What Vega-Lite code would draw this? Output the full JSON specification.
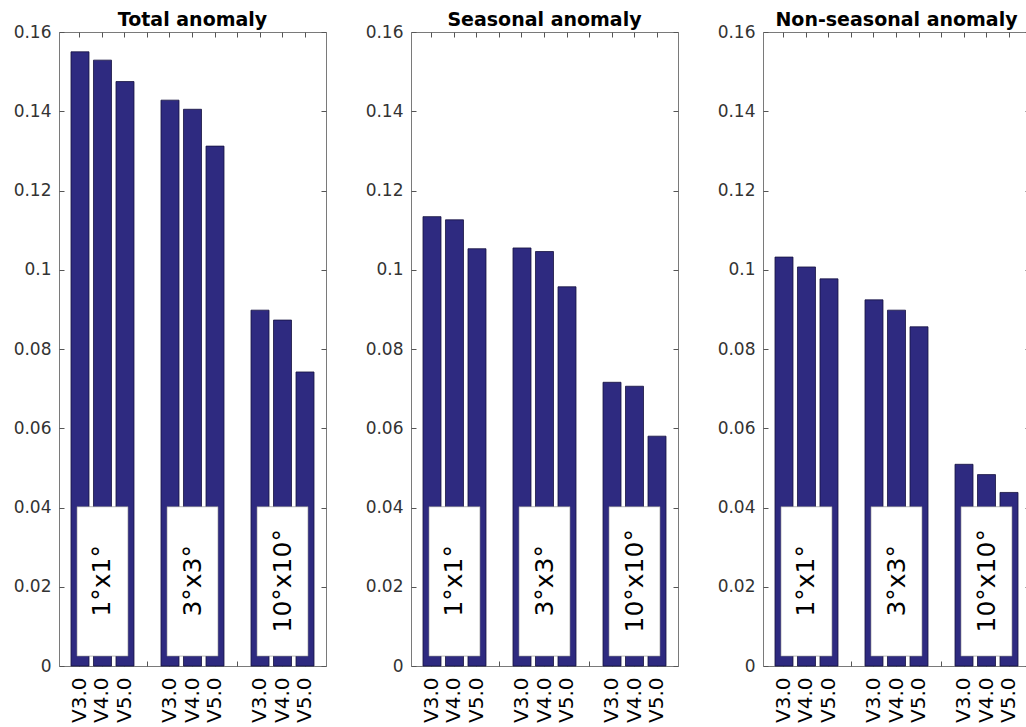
{
  "$schema": "https://vega.github.io/schema/vega-lite/v6.json",
  "padding": {"left": 12, "top": 10, "right": 0, "bottom": 0},
  "spacing": 37,
  "background": "white",
  "data": {"values": [
    {"panel": "Total anomaly", "grid": "1°x1°", "version": "V3.0", "bar": "1°x1°|V3.0", "value": 0.155},
    {"panel": "Total anomaly", "grid": "1°x1°", "version": "V4.0", "bar": "1°x1°|V4.0", "value": 0.1529},
    {"panel": "Total anomaly", "grid": "1°x1°", "version": "V5.0", "bar": "1°x1°|V5.0", "value": 0.1475},
    {"panel": "Total anomaly", "grid": "3°x3°", "version": "V3.0", "bar": "3°x3°|V3.0", "value": 0.1428},
    {"panel": "Total anomaly", "grid": "3°x3°", "version": "V4.0", "bar": "3°x3°|V4.0", "value": 0.1405},
    {"panel": "Total anomaly", "grid": "3°x3°", "version": "V5.0", "bar": "3°x3°|V5.0", "value": 0.1312},
    {"panel": "Total anomaly", "grid": "10°x10°", "version": "V3.0", "bar": "10°x10°|V3.0", "value": 0.0898},
    {"panel": "Total anomaly", "grid": "10°x10°", "version": "V4.0", "bar": "10°x10°|V4.0", "value": 0.0873},
    {"panel": "Total anomaly", "grid": "10°x10°", "version": "V5.0", "bar": "10°x10°|V5.0", "value": 0.0742},
    {"panel": "Seasonal anomaly", "grid": "1°x1°", "version": "V3.0", "bar": "1°x1°|V3.0", "value": 0.1134},
    {"panel": "Seasonal anomaly", "grid": "1°x1°", "version": "V4.0", "bar": "1°x1°|V4.0", "value": 0.1126},
    {"panel": "Seasonal anomaly", "grid": "1°x1°", "version": "V5.0", "bar": "1°x1°|V5.0", "value": 0.1053},
    {"panel": "Seasonal anomaly", "grid": "3°x3°", "version": "V3.0", "bar": "3°x3°|V3.0", "value": 0.1055},
    {"panel": "Seasonal anomaly", "grid": "3°x3°", "version": "V4.0", "bar": "3°x3°|V4.0", "value": 0.1046},
    {"panel": "Seasonal anomaly", "grid": "3°x3°", "version": "V5.0", "bar": "3°x3°|V5.0", "value": 0.0957},
    {"panel": "Seasonal anomaly", "grid": "10°x10°", "version": "V3.0", "bar": "10°x10°|V3.0", "value": 0.0716},
    {"panel": "Seasonal anomaly", "grid": "10°x10°", "version": "V4.0", "bar": "10°x10°|V4.0", "value": 0.0706},
    {"panel": "Seasonal anomaly", "grid": "10°x10°", "version": "V5.0", "bar": "10°x10°|V5.0", "value": 0.058},
    {"panel": "Non-seasonal anomaly", "grid": "1°x1°", "version": "V3.0", "bar": "1°x1°|V3.0", "value": 0.1032},
    {"panel": "Non-seasonal anomaly", "grid": "1°x1°", "version": "V4.0", "bar": "1°x1°|V4.0", "value": 0.1007},
    {"panel": "Non-seasonal anomaly", "grid": "1°x1°", "version": "V5.0", "bar": "1°x1°|V5.0", "value": 0.0977},
    {"panel": "Non-seasonal anomaly", "grid": "3°x3°", "version": "V3.0", "bar": "3°x3°|V3.0", "value": 0.0924},
    {"panel": "Non-seasonal anomaly", "grid": "3°x3°", "version": "V4.0", "bar": "3°x3°|V4.0", "value": 0.0898},
    {"panel": "Non-seasonal anomaly", "grid": "3°x3°", "version": "V5.0", "bar": "3°x3°|V5.0", "value": 0.0856},
    {"panel": "Non-seasonal anomaly", "grid": "10°x10°", "version": "V3.0", "bar": "10°x10°|V3.0", "value": 0.0509},
    {"panel": "Non-seasonal anomaly", "grid": "10°x10°", "version": "V4.0", "bar": "10°x10°|V4.0", "value": 0.0483},
    {"panel": "Non-seasonal anomaly", "grid": "10°x10°", "version": "V5.0", "bar": "10°x10°|V5.0", "value": 0.0438}
  ]},
  "config": {
    "view": {"stroke": "#7a7a7a", "strokeWidth": 1},
    "axis": {"domain": false, "grid": false, "ticks": true, "tickSize": -5, "tickColor": "#555555", "tickWidth": 1, "labelFont": "DejaVu Sans", "labelColor": "#333333", "title": null},
    "title": {"font": "DejaVu Sans", "fontSize": 19, "fontWeight": "bold", "color": "black", "anchor": "middle", "offset": -7}
  },
  "hconcat": [
    {
      "width": 267, "height": 634,
      "title": {"text": "Total anomaly"},
      "transform": [{"filter": "datum.panel === 'Total anomaly'"}],
      "layer": [
        {
          "mark": {"type": "bar", "fill": "#2e2a80", "stroke": "#15123f", "strokeWidth": 0.8},
          "encoding": {
            "x": {"field": "bar", "type": "nominal", "scale": {"domain": ["1°x1°|V3.0", "1°x1°|V4.0", "1°x1°|V5.0", "gap1", "3°x3°|V3.0", "3°x3°|V4.0", "3°x3°|V5.0", "gap2", "10°x10°|V3.0", "10°x10°|V4.0", "10°x10°|V5.0"], "paddingInner": 0.2, "paddingOuter": 0.533},
              "axis": {"orient": "bottom", "bandPosition": 0.5, "labelAngle": 270, "labelAlign": "right", "labelBaseline": "middle", "labelFontSize": 20, "labelColor": "black", "labelPadding": 16, "labelExpr": "indexof(datum.value, '|') > 0 ? split(datum.value, '|')[1] : ''"}},
            "y": {"field": "value", "type": "quantitative", "scale": {"domain": [0, 0.16], "nice": false, "zero": true},
              "axis": {"orient": "left", "values": [0, 0.02, 0.04, 0.06, 0.08, 0.1, 0.12, 0.14, 0.16], "format": "~g", "labelFontSize": 17, "labelPadding": 13}}
          }
        },
        {
          "transform": [{"filter": "datum.version === 'V4.0'"}],
          "mark": {"type": "bar", "width": 51, "fill": "white", "stroke": "#8a8a8a", "strokeWidth": 0.6},
          "encoding": {
            "x": {"field": "bar", "type": "nominal", "axis": {"orient": "top", "labels": false, "bandPosition": 0.5, "maxExtent": 0, "minExtent": 0}},
            "y": {"datum": 0.0025, "type": "quantitative", "scale": {"domain": [0, 0.16], "nice": false},
              "axis": {"orient": "right", "labels": false, "maxExtent": 0, "minExtent": 0, "values": [0, 0.02, 0.04, 0.06, 0.08, 0.1, 0.12, 0.14, 0.16]}},
            "y2": {"datum": 0.0402}
          }
        },
        {
          "transform": [{"filter": "datum.version === 'V4.0'"}],
          "mark": {"type": "text", "angle": 270, "font": "DejaVu Sans", "fontSize": 25, "align": "center", "baseline": "middle", "color": "black"},
          "encoding": {
            "x": {"field": "bar", "type": "nominal", "axis": null},
            "y": {"datum": 0.0215, "type": "quantitative", "axis": null},
            "text": {"field": "grid"}
          }
        }
      ],
      "resolve": {"axis": {"x": "independent", "y": "independent"}}
    },
    {
      "width": 267, "height": 634,
      "title": {"text": "Seasonal anomaly"},
      "transform": [{"filter": "datum.panel === 'Seasonal anomaly'"}],
      "layer": [
        {
          "mark": {"type": "bar", "fill": "#2e2a80", "stroke": "#15123f", "strokeWidth": 0.8},
          "encoding": {
            "x": {"field": "bar", "type": "nominal", "scale": {"domain": ["1°x1°|V3.0", "1°x1°|V4.0", "1°x1°|V5.0", "gap1", "3°x3°|V3.0", "3°x3°|V4.0", "3°x3°|V5.0", "gap2", "10°x10°|V3.0", "10°x10°|V4.0", "10°x10°|V5.0"], "paddingInner": 0.2, "paddingOuter": 0.533},
              "axis": {"orient": "bottom", "bandPosition": 0.5, "labelAngle": 270, "labelAlign": "right", "labelBaseline": "middle", "labelFontSize": 20, "labelColor": "black", "labelPadding": 16, "labelExpr": "indexof(datum.value, '|') > 0 ? split(datum.value, '|')[1] : ''"}},
            "y": {"field": "value", "type": "quantitative", "scale": {"domain": [0, 0.16], "nice": false, "zero": true},
              "axis": {"orient": "left", "values": [0, 0.02, 0.04, 0.06, 0.08, 0.1, 0.12, 0.14, 0.16], "format": "~g", "labelFontSize": 17, "labelPadding": 13}}
          }
        },
        {
          "transform": [{"filter": "datum.version === 'V4.0'"}],
          "mark": {"type": "bar", "width": 51, "fill": "white", "stroke": "#8a8a8a", "strokeWidth": 0.6},
          "encoding": {
            "x": {"field": "bar", "type": "nominal", "axis": {"orient": "top", "labels": false, "bandPosition": 0.5, "maxExtent": 0, "minExtent": 0}},
            "y": {"datum": 0.0025, "type": "quantitative", "scale": {"domain": [0, 0.16], "nice": false},
              "axis": {"orient": "right", "labels": false, "maxExtent": 0, "minExtent": 0, "values": [0, 0.02, 0.04, 0.06, 0.08, 0.1, 0.12, 0.14, 0.16]}},
            "y2": {"datum": 0.0402}
          }
        },
        {
          "transform": [{"filter": "datum.version === 'V4.0'"}],
          "mark": {"type": "text", "angle": 270, "font": "DejaVu Sans", "fontSize": 25, "align": "center", "baseline": "middle", "color": "black"},
          "encoding": {
            "x": {"field": "bar", "type": "nominal", "axis": null},
            "y": {"datum": 0.0215, "type": "quantitative", "axis": null},
            "text": {"field": "grid"}
          }
        }
      ],
      "resolve": {"axis": {"x": "independent", "y": "independent"}}
    },
    {
      "width": 267, "height": 634,
      "title": {"text": "Non-seasonal anomaly"},
      "transform": [{"filter": "datum.panel === 'Non-seasonal anomaly'"}],
      "layer": [
        {
          "mark": {"type": "bar", "fill": "#2e2a80", "stroke": "#15123f", "strokeWidth": 0.8},
          "encoding": {
            "x": {"field": "bar", "type": "nominal", "scale": {"domain": ["1°x1°|V3.0", "1°x1°|V4.0", "1°x1°|V5.0", "gap1", "3°x3°|V3.0", "3°x3°|V4.0", "3°x3°|V5.0", "gap2", "10°x10°|V3.0", "10°x10°|V4.0", "10°x10°|V5.0"], "paddingInner": 0.2, "paddingOuter": 0.533},
              "axis": {"orient": "bottom", "bandPosition": 0.5, "labelAngle": 270, "labelAlign": "right", "labelBaseline": "middle", "labelFontSize": 20, "labelColor": "black", "labelPadding": 16, "labelExpr": "indexof(datum.value, '|') > 0 ? split(datum.value, '|')[1] : ''"}},
            "y": {"field": "value", "type": "quantitative", "scale": {"domain": [0, 0.16], "nice": false, "zero": true},
              "axis": {"orient": "left", "values": [0, 0.02, 0.04, 0.06, 0.08, 0.1, 0.12, 0.14, 0.16], "format": "~g", "labelFontSize": 17, "labelPadding": 13}}
          }
        },
        {
          "transform": [{"filter": "datum.version === 'V4.0'"}],
          "mark": {"type": "bar", "width": 51, "fill": "white", "stroke": "#8a8a8a", "strokeWidth": 0.6},
          "encoding": {
            "x": {"field": "bar", "type": "nominal", "axis": {"orient": "top", "labels": false, "bandPosition": 0.5, "maxExtent": 0, "minExtent": 0}},
            "y": {"datum": 0.0025, "type": "quantitative", "scale": {"domain": [0, 0.16], "nice": false},
              "axis": {"orient": "right", "labels": false, "maxExtent": 0, "minExtent": 0, "values": [0, 0.02, 0.04, 0.06, 0.08, 0.1, 0.12, 0.14, 0.16]}},
            "y2": {"datum": 0.0402}
          }
        },
        {
          "transform": [{"filter": "datum.version === 'V4.0'"}],
          "mark": {"type": "text", "angle": 270, "font": "DejaVu Sans", "fontSize": 25, "align": "center", "baseline": "middle", "color": "black"},
          "encoding": {
            "x": {"field": "bar", "type": "nominal", "axis": null},
            "y": {"datum": 0.0215, "type": "quantitative", "axis": null},
            "text": {"field": "grid"}
          }
        }
      ],
      "resolve": {"axis": {"x": "independent", "y": "independent"}}
    }
  ]
}
